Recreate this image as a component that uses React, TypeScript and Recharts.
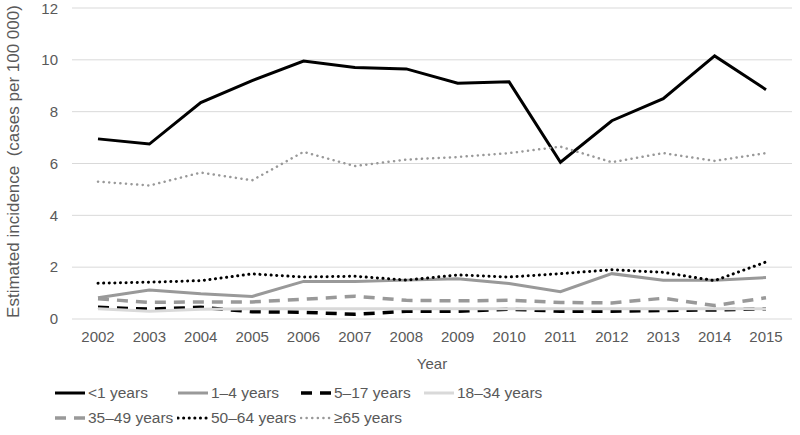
import { CartesianGrid, Label, Line, LineChart, XAxis, YAxis } from "recharts";

const years = [
  "2002", "2003", "2004", "2005", "2006", "2007", "2008",
  "2009", "2010", "2011", "2012", "2013", "2014", "2015",
];
const under1 = [6.95, 6.75, 8.35, 9.2, 9.95, 9.7, 9.65, 9.1, 9.15, 6.05, 7.65, 8.5, 10.15, 8.85];
const age1to4 = [0.82, 1.12, 0.97, 0.87, 1.45, 1.45, 1.5, 1.55, 1.37, 1.05, 1.75, 1.5, 1.5, 1.6];
const age5to17 = [0.45, 0.38, 0.45, 0.28, 0.26, 0.18, 0.3, 0.3, 0.38, 0.3, 0.3, 0.33, 0.35, 0.4];
const age18to34 = [0.4, 0.3, 0.38, 0.4, 0.4, 0.4, 0.4, 0.4, 0.4, 0.4, 0.4, 0.4, 0.4, 0.4];
const age35to49 = [0.78, 0.64, 0.66, 0.66, 0.76, 0.88, 0.72, 0.7, 0.72, 0.64, 0.62, 0.8, 0.52, 0.82];
const age50to64 = [1.38, 1.42, 1.48, 1.74, 1.62, 1.65, 1.5, 1.7, 1.62, 1.75, 1.9, 1.8, 1.48, 2.2];
const age65plus = [5.3, 5.15, 5.65, 5.35, 6.45, 5.9, 6.15, 6.25, 6.4, 6.65, 6.05, 6.4, 6.1, 6.4];
const yTicks = [0, 2, 4, 6, 8, 10, 12];

const data = years.map((year, i) => ({
  year,
  under1: under1[i],
  age1to4: age1to4[i],
  age5to17: age5to17[i],
  age18to34: age18to34[i],
  age35to49: age35to49[i],
  age50to64: age50to64[i],
  age65plus: age65plus[i],
}));

type SeriesStyle = {
  key: string;
  name: string;
  color: string;
  width: number;
  dash?: string;
  cap?: "round" | "butt";
};

const series: SeriesStyle[] = [
  { key: "under1", name: "<1 years", color: "#000000", width: 3 },
  { key: "age1to4", name: "1–4 years", color: "#999999", width: 3 },
  { key: "age5to17", name: "5–17 years", color: "#000000", width: 3.5, dash: "11 8" },
  { key: "age18to34", name: "18–34 years", color: "#d9d9d9", width: 3 },
  { key: "age35to49", name: "35–49 years", color: "#999999", width: 3.5, dash: "11 8" },
  { key: "age50to64", name: "50–64 years", color: "#000000", width: 3, dash: "0.1 5.5", cap: "round" },
  { key: "age65plus", name: "≥65 years", color: "#999999", width: 2.5, dash: "0.1 5.5", cap: "round" },
];

const textColor = "#595959";
const font = "'Liberation Sans', Arial, sans-serif";

function LegendBox() {
  return (
    <div
      style={{
        position: "absolute",
        left: 54,
        top: 384,
        display: "flex",
        flexWrap: "wrap",
        width: 500,
        rowGap: 7,
      }}
    >
      {series.map((s) => (
        <div key={s.key} style={{ width: 123, display: "flex", alignItems: "center" }}>
          <svg width={34} height={18}>
            <line
              x1={1}
              y1={9}
              x2={31}
              y2={9}
              stroke={s.color}
              strokeWidth={s.width}
              strokeDasharray={s.dash}
              strokeLinecap={s.cap ?? "butt"}
            />
          </svg>
          <span style={{ fontSize: 15.5, color: textColor, fontFamily: font }}>{s.name}</span>
        </div>
      ))}
    </div>
  );
}

export default function App() {
  return (
    <div style={{ position: "absolute", left: 0, top: 0, width: 800, height: 435, fontFamily: font }}>
      <LineChart
        width={800}
        height={435}
        data={data}
        margin={{ top: 8, right: 8, left: 0, bottom: 80 }}
      >
        <CartesianGrid vertical={false} stroke="#d9d9d9" strokeWidth={1} />
        <XAxis
          dataKey="year"
          axisLine={false}
          tickLine={false}
          tick={{ fill: textColor, fontSize: 15 }}
          tickMargin={6}
          height={36}
          padding={{ left: 26, right: 26 }}
          interval={0}
        >
          <Label value="Year" position="bottom" offset={3} fill={textColor} fontSize={15} />
        </XAxis>
        <YAxis
          domain={[0, 12]}
          ticks={yTicks}
          axisLine={false}
          tickLine={false}
          tick={{ fill: textColor, fontSize: 15 }}
          tickMargin={8}
          width={72}
        >
          <Label
            value={"Estimated incidence\u00a0 (cases per 100\u00a0000)"}
            angle={-90}
            position="insideLeft"
            offset={13}
            dy={-2}
            style={{ textAnchor: "middle" }}
            fill={textColor}
            fontSize={17}
          />
        </YAxis>
        {series.map((s) => (
          <Line
            key={s.key}
            dataKey={s.key}
            name={s.name}
            stroke={s.color}
            strokeWidth={s.width}
            strokeDasharray={s.dash}
            strokeLinecap={s.cap ?? "butt"}
            dot={false}
            activeDot={false}
            type="linear"
            isAnimationActive={false}
          />
        ))}
      </LineChart>
      <LegendBox />
    </div>
  );
}
